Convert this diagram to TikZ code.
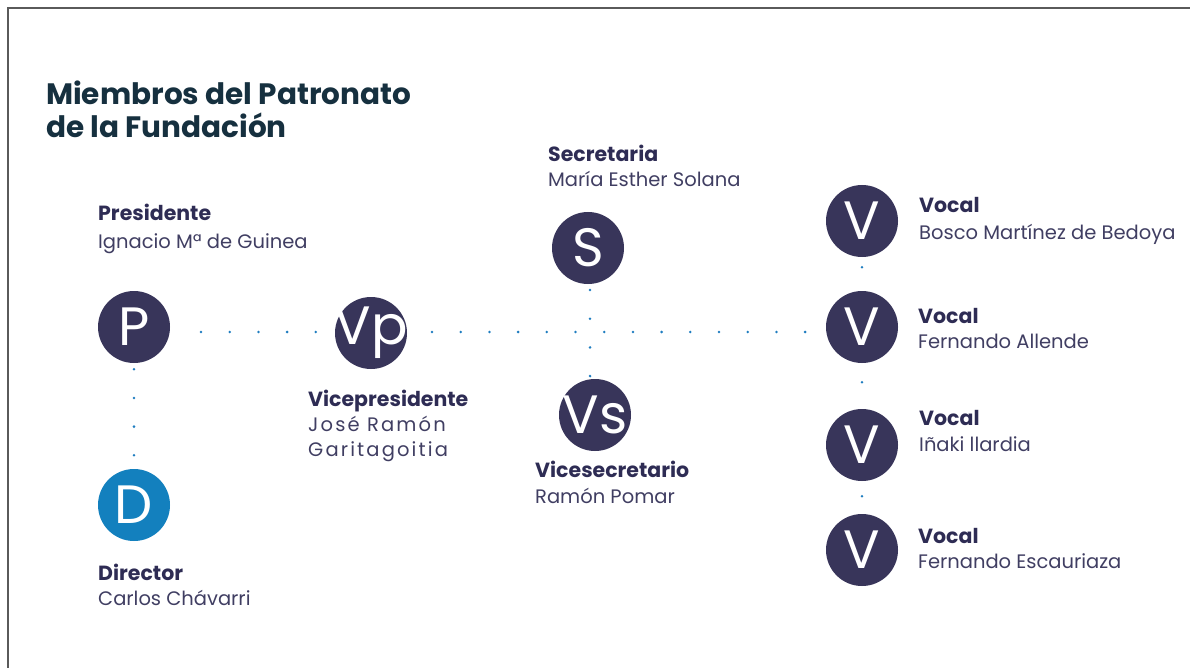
\documentclass[tikz,border=0pt]{standalone}
\usepackage{fontspec}
\setmainfont{Poppins}
\definecolor{circ}{HTML}{38355A}
\definecolor{dirc}{HTML}{1380BE}
\definecolor{dotc}{HTML}{1F7DC0}
\definecolor{rolec}{HTML}{2E2C54}
\definecolor{namec}{HTML}{403E62}
\definecolor{titlec}{HTML}{16303F}
\definecolor{framec}{HTML}{5A5A5A}
\newcommand{\circfont}{\fontsize{54}{54}\selectfont}
\newcommand{\rolefont}{\fontsize{20.5}{24}\bfseries\selectfont}
\newcommand{\namefont}{\fontsize{19.5}{23}\selectfont}
\newcommand{\circtext}[1]{\makebox[0pt]{#1}}
\tikzset{
  mem/.style={circle, fill=circ, minimum size=72pt, inner sep=0pt, text=white, font=\circfont},
  role/.style={anchor=base west, inner sep=0pt, text=rolec, font=\rolefont},
  who/.style={anchor=base west, inner sep=0pt, text=namec, font=\namefont},
  dotline/.style={draw=dotc, line width=2.8pt, line cap=round, dash pattern=on 0pt off 28.7pt},
}
\begin{document}
\begin{tikzpicture}[x=1pt,y=-1pt]
\useasboundingbox (0,0) rectangle (1190,668);
\draw[framec, line width=2pt] (8,668) -- (8,8) -- (1190,8);
% title
\node[anchor=base west, inner sep=0pt, text=titlec, font=\fontsize{29.5}{34}\bfseries\selectfont] (t1) at (46,105) {Miembros del Patronato};
\node[anchor=base west, inner sep=0pt, text=titlec, font=\fontsize{29.5}{34}\bfseries\selectfont] (t2) at (46,138) {de la Fundación};
% circles
\node[mem] (P) at (134,327) {\circtext{P}};
\node[mem] (Vp) at (371,333) {\circtext{Vp}};
\node[mem, fill=dirc] (D) at (134,505) {\circtext{D}};
\node[mem] (S) at (588,248) {\circtext{S}};
\node[mem] (Vs) at (595,415) {\circtext{Vs}};
\node[mem] (V1) at (862,221) {\circtext{V}};
\node[mem] (V2) at (862,327) {\circtext{V}};
\node[mem] (V3) at (862,445) {\circtext{V}};
\node[mem] (V4) at (862,550) {\circtext{V}};
% labels
\node[role] (rP) at (98,221) {Presidente};
\node[who] (nP) at (98,248) {Ignacio Mª de Guinea};
\node[role] (rS) at (548,162) {Secretaria};
\node[who] (nS) at (548,187) {María Esther Solana};
\node[role] (rVp) at (308,406) {Vicepresidente};
\node[who, font=\namefont\addfontfeature{LetterSpace=11}] (nVp1) at (308,431) {José Ramón};
\node[who, font=\namefont\addfontfeature{LetterSpace=11}] (nVp2) at (308,456) {Garitagoitia};
\node[role] (rVs) at (535,477) {Vicesecretario};
\node[who] (nVs) at (535,503) {Ramón Pomar};
\node[role] (rD) at (98,580) {Director};
\node[who] (nD) at (98,605) {Carlos Chávarri};
\node[role] (rV1) at (919,213) {Vocal};
\node[who] (nV1) at (919,240) {Bosco Martínez de Bedoya};
\node[role] (rV2) at (918,323) {Vocal};
\node[who] (nV2) at (918,348) {Fernando Allende};
\node[role] (rV3) at (919,425) {Vocal};
\node[who] (nV3) at (919,451) {Iñaki llardia};
\node[role] (rV4) at (918,543) {Vocal};
\node[who] (nV4) at (918,568) {Fernando Escauriaza};
% dotted connectors
\coordinate (h1s) at (201,332);
\draw[dotline] (h1s) -- (h1s -| Vp.west);
\coordinate (h2s) at (432,332);
\draw[dotline] (h2s) -- (h2s -| V2.west);
\coordinate (vs1) at (590,290);
\draw[dotline] (vs1) -- (vs1 |- Vs.north);
\draw[dotline] ([yshift=-6pt]P.south) -- (D.north);
\draw[dotline] ([yshift=-10pt]V1.south) -- (V2.north);
\draw[dotline] ([yshift=-19pt]V2.south) -- (V3.north);
\draw[dotline] ([yshift=-15pt]V3.south) -- (V4.north);
\end{tikzpicture}
\end{document}
